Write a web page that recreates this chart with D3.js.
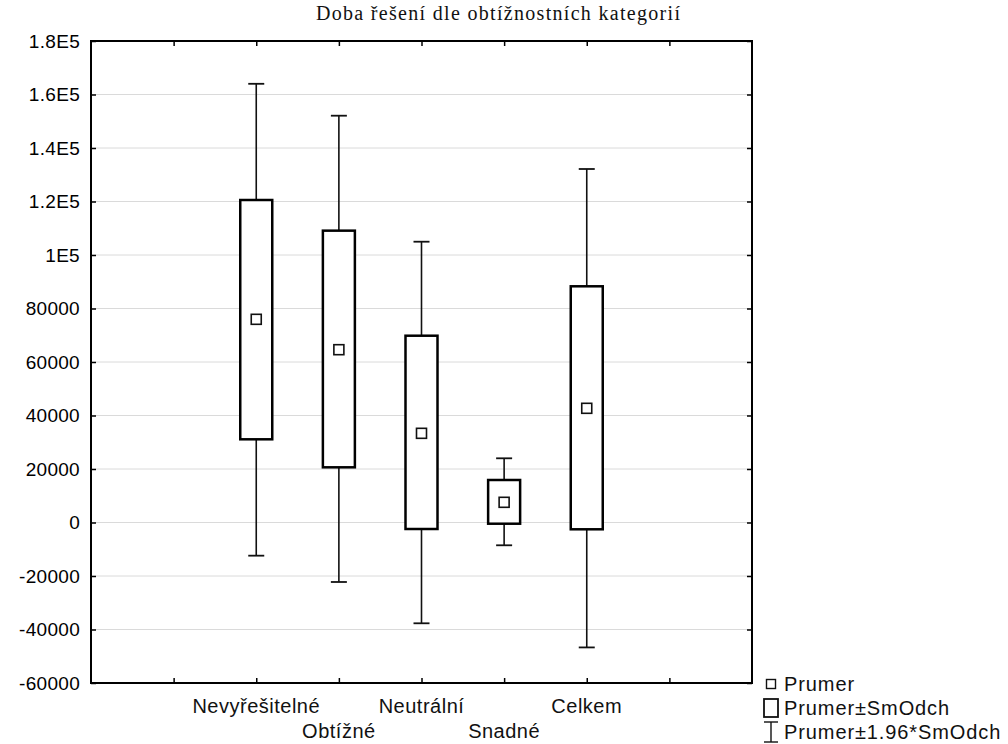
<!DOCTYPE html>
<html>
<head>
<meta charset="utf-8">
<script src="https://cdn.jsdelivr.net/npm/d3@7"></script>
<style>
  html, body { margin: 0; padding: 0; background: #fff; }
  svg { display: block; }
</style>
</head>
<body>
<svg id="chart" width="1008" height="744"></svg>
<script>
// Solution time per difficulty category: mean, mean ± SD, mean ± 1.96*SD
const categories = ["Nevyřešitelné", "Obtížné", "Neutrální", "Snadné", "Celkem"];
const means      = [75960, 64600, 33340, 7550, 42690];
const sdLow      = [31100, 20630, -2430, -450, -2540];
const sdHigh     = [120560, 109100, 69830, 15890, 88300];
const ciLow      = [-12400, -22240, -37680, -8520, -46700];
const ciHigh     = [164000, 152075, 104970, 24000, 132150];
const yTicks     = [-60000, -40000, -20000, 0, 20000, 40000, 60000, 80000, 100000, 120000, 140000, 160000, 180000];
const yTickLabels = ["-60000", "-40000", "-20000", "0", "20000", "40000", "60000", "80000", "1E5", "1.2E5", "1.4E5", "1.6E5", "1.8E5"];
const legendLabels = ["Prumer", "Prumer±SmOdch", "Prumer±1.96*SmOdch"];
const title = "Doba řešení dle obtížnostních kategorií";

const svg = d3.select("#chart");
const plotL = 91, plotR = 752, plotT = 41, plotB = 683;
const sans = "'Liberation Sans', Arial, sans-serif";

// categories sit at slots 2..6 of an 8-slot axis
const x = d3.scaleLinear().domain([0, 8]).range([plotL, plotR]);
const y = d3.scaleLinear().domain([-60000, 180000]).range([plotB, plotT]);
const slot = i => x(i + 2);

// gridlines
svg.append("g")
  .selectAll("line")
  .data(yTicks.slice(1, -1))
  .join("line")
  .attr("x1", plotL).attr("x2", plotR)
  .attr("y1", d => y(d)).attr("y2", d => y(d))
  .attr("stroke", "#dadada").attr("stroke-width", 1);

// axes with inward ticks
const xTickVals = [1, 2, 3, 4, 5, 6, 7];
svg.append("g").attr("transform", `translate(0,${plotB})`)
  .call(d3.axisBottom(x).tickValues(xTickVals).tickSize(-5).tickFormat(""))
  .call(g => g.select(".domain").remove());
svg.append("g").attr("transform", `translate(0,${plotT})`)
  .call(d3.axisTop(x).tickValues(xTickVals).tickSize(-5).tickFormat(""))
  .call(g => g.select(".domain").remove());
svg.append("g").attr("transform", `translate(${plotL},0)`)
  .call(d3.axisLeft(y).tickValues(yTicks).tickSize(-5).tickPadding(11)
        .tickFormat((d, i) => yTickLabels[i]))
  .call(g => g.select(".domain").remove())
  .call(g => g.selectAll("text").attr("font-family", sans).attr("font-size", 19)
        .attr("letter-spacing", 0.3).attr("fill", "#000"));
svg.append("g").attr("transform", `translate(${plotR},0)`)
  .call(d3.axisRight(y).tickValues(yTicks).tickSize(-5).tickFormat(""))
  .call(g => g.select(".domain").remove());
svg.selectAll(".tick line").attr("stroke", "#000").attr("stroke-width", 1.5);

// frame
svg.append("rect")
  .attr("x", plotL).attr("y", plotT)
  .attr("width", plotR - plotL).attr("height", plotB - plotT)
  .attr("fill", "none").attr("stroke", "#000").attr("stroke-width", 2);

// boxes
const boxW = 32, capW = 16, markS = 10;
const g = svg.append("g");
categories.forEach((c, i) => {
  const cx = slot(i);
  // whiskers
  g.append("line").attr("x1", cx).attr("x2", cx)
    .attr("y1", y(ciHigh[i])).attr("y2", y(sdHigh[i]))
    .attr("stroke", "#111").attr("stroke-width", 1.6);
  g.append("line").attr("x1", cx).attr("x2", cx)
    .attr("y1", y(sdLow[i])).attr("y2", y(ciLow[i]))
    .attr("stroke", "#111").attr("stroke-width", 1.6);
  [ciHigh[i], ciLow[i]].forEach(v => {
    g.append("line").attr("x1", cx - capW / 2).attr("x2", cx + capW / 2)
      .attr("y1", y(v)).attr("y2", y(v))
      .attr("stroke", "#111").attr("stroke-width", 1.8);
  });
  // SD box
  g.append("rect")
    .attr("x", cx - boxW / 2).attr("y", y(sdHigh[i]))
    .attr("width", boxW).attr("height", y(sdLow[i]) - y(sdHigh[i]))
    .attr("fill", "#fff").attr("stroke", "#000").attr("stroke-width", 2.5);
  // mean marker
  g.append("rect")
    .attr("x", cx - markS / 2).attr("y", y(means[i]) - markS / 2)
    .attr("width", markS).attr("height", markS)
    .attr("fill", "#fff").attr("stroke", "#111").attr("stroke-width", 1.6);
});

// category labels, staggered over two rows
svg.append("g")
  .selectAll("text")
  .data(categories)
  .join("text")
  .attr("x", (d, i) => slot(i))
  .attr("y", (d, i) => i % 2 === 0 ? 713 : 738)
  .attr("text-anchor", "middle")
  .attr("font-family", sans).attr("font-size", 20)
  .attr("letter-spacing", 0.5)
  .attr("fill", "#111")
  .text(d => d);

// title
svg.append("text")
  .attr("x", 498).attr("y", 20)
  .attr("text-anchor", "middle")
  .attr("font-family", "'Liberation Serif', 'Times New Roman', serif")
  .attr("font-size", 20)
  .attr("textLength", 364)
  .attr("lengthAdjust", "spacing")
  .attr("fill", "#111")
  .text(title);

// legend
const lg = svg.append("g");
const lx = 771, ly = [684, 708, 732];
lg.append("rect").attr("x", lx - 4.5).attr("y", ly[0] - 4.5).attr("width", 9).attr("height", 9)
  .attr("fill", "#fff").attr("stroke", "#111").attr("stroke-width", 1.4);
lg.append("rect").attr("x", lx - 7).attr("y", ly[1] - 9).attr("width", 14).attr("height", 18)
  .attr("fill", "#fff").attr("stroke", "#111").attr("stroke-width", 1.8);
lg.append("line").attr("x1", lx).attr("x2", lx).attr("y1", ly[2] - 10).attr("y2", ly[2] + 10)
  .attr("stroke", "#111").attr("stroke-width", 1.4);
[ly[2] - 10, ly[2] + 10].forEach(v => {
  lg.append("line").attr("x1", lx - 7).attr("x2", lx + 7).attr("y1", v).attr("y2", v)
    .attr("stroke", "#111").attr("stroke-width", 1.4);
});
lg.selectAll("text")
  .data(legendLabels)
  .join("text")
  .attr("x", 784)
  .attr("y", (d, i) => ly[i] + 7)
  .attr("font-family", sans).attr("font-size", 20)
  .attr("letter-spacing", 0.9)
  .attr("fill", "#111")
  .text(d => d);
</script>
</body>
</html>
